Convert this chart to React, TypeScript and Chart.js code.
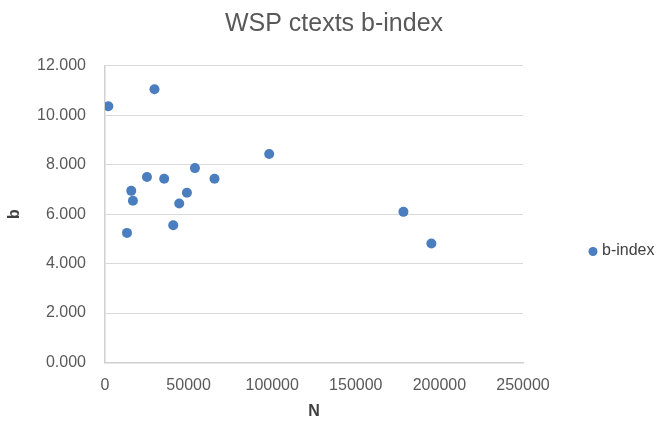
import React, { useEffect, useRef } from "react";
import { Chart, registerables } from "chart.js";

Chart.register(...registerables);

const seriesLabel = "b-index";
const nValues = [2000, 29600, 13150, 15700, 16700, 25100, 35400, 40800, 44400, 49000, 53800, 65500, 98200, 178500, 195200];
const bValues = [10.36, 11.05, 5.24, 6.94, 6.54, 7.5, 7.43, 5.55, 6.43, 6.86, 7.86, 7.43, 8.43, 6.09, 4.81];
const titleText = "WSP ctexts b-index";
const xTitle = "N";
const yTitle = "b";

const FONT = "'Liberation Sans', Arial, sans-serif";
const BLUE = "#4A7EBF";

const legendPlugin = {
  id: "customLegend",
  afterDraw(chart: any) {
    const ctx = chart.ctx;
    const ds = chart.data.datasets[0];
    ctx.save();
    ctx.fillStyle = BLUE;
    ctx.beginPath();
    ctx.arc(593, 251.5, 4.5, 0, Math.PI * 2);
    ctx.fill();
    ctx.fillStyle = "#404040";
    ctx.font = `16px ${FONT}`;
    ctx.textBaseline = "middle";
    ctx.textAlign = "left";
    ctx.fillText(ds.label, 602, 251);
    ctx.restore();
  },
};

export default function App() {
  const ref = useRef<HTMLCanvasElement>(null);
  useEffect(() => {
    if (!ref.current) return;
    const data = nValues.map((x, i) => ({ x, y: bValues[i] }));
    const chart = new Chart(ref.current, {
      type: "scatter",
      data: {
        datasets: [
          {
            label: seriesLabel,
            data,
            backgroundColor: BLUE,
            borderColor: BLUE,
            pointRadius: 5,
            pointHoverRadius: 5,
            borderWidth: 0,
          },
        ],
      },
      options: {
        animation: false,
        responsive: false,
        events: [],
        layout: { padding: 0 },
        plugins: {
          legend: { display: false },
          tooltip: { enabled: false },
          title: {
            display: true,
            text: titleText,
            color: "#595959",
            font: { family: FONT, size: 25, weight: "normal" },
            padding: { top: 9, bottom: 26.7 },
          },
        },
        scales: {
          x: {
            type: "linear",
            min: 0,
            max: 250000,
            afterFit(scale: any) {
              scale.height = 61.5;
            },
            ticks: {
              stepSize: 50000,
              color: "#595959",
              font: { family: FONT, size: 16 },
              padding: 13,
              maxRotation: 0,
              callback: (v: any) => String(v),
            },
            grid: { display: false, drawTicks: false },
            border: { display: true, color: "#d0d0d0", width: 1.5 },
            title: {
              display: true,
              text: xTitle,
              color: "#404040",
              font: { family: FONT, size: 16, weight: "bold" },
              padding: { top: 0, bottom: 2.4 },
            },
          },
          y: {
            type: "linear",
            min: 0,
            max: 12,
            afterFit(scale: any) {
              scale.width = 105;
            },
            ticks: {
              stepSize: 2,
              color: "#595959",
              font: { family: FONT, size: 16 },
              padding: 19,
              callback: (v: any) => Number(v).toFixed(3),
            },
            grid: { color: "#d9d9d9", drawTicks: false, lineWidth: 1 },
            border: { display: true, color: "#d0d0d0", width: 1.5 },
            title: {
              display: true,
              text: yTitle,
              color: "#404040",
              font: { family: FONT, size: 16, weight: "bold" },
              padding: { top: 5.4, bottom: 0 },
            },
          },
          spacer: {
            type: "linear",
            position: "right",
            display: true,
            min: 0,
            max: 1,
            afterFit(scale: any) {
              scale.width = 145;
            },
            ticks: { display: false },
            grid: { display: false, drawTicks: false },
            border: { display: false },
          },
        },
      },
      plugins: [legendPlugin],
    });
    return () => chart.destroy();
  }, []);
  return (
    <div style={{ position: "absolute", left: 0, top: 0, width: 668, height: 424, background: "#fff" }}>
      <canvas ref={ref} width={668} height={424} />
    </div>
  );
}
